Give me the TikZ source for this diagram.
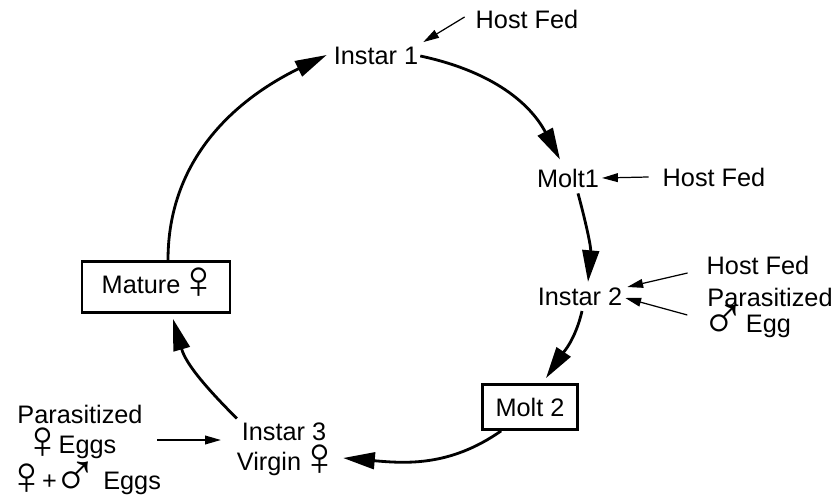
\documentclass[tikz,border=0pt]{standalone}
\usepackage{fontspec}
\setmainfont{Liberation Sans}
\usetikzlibrary{arrows.meta,calc}
\newcommand\fem{\makebox[13pt][c]{\raisebox{-3pt}{\smash{\fontsize{31}{15}\selectfont ♀}}}}
\newcommand\mal{\makebox[16pt][c]{\raisebox{-4pt}{\smash{\fontsize{35}{15}\selectfont ♂}}}}
\begin{document}
\begin{tikzpicture}[x=0.02cm,y=0.02cm,
  every node/.style={font=\fontsize{14.4}{15}\selectfont, inner sep=1pt},
  box/.style={draw, line width=1.6pt, inner sep=0pt},
  cyc/.style={line width=1.6pt, -{Triangle[length=18pt,width=9.5pt]}},
  feed/.style={line width=0.7pt, -{Triangle[length=9pt,width=5pt]}}]
\useasboundingbox (0,0) rectangle (837,-499);

% cycle nodes
\node (i1) at (376,-56) {Instar 1};
\node (m1) at (568,-178) {Molt1};
\node (i2) at (580,-297) {Instar 2};
\node[box, minimum width=1.9cm, minimum height=0.9cm] (m2) at (530,-407) {Molt 2};
\node[align=center] (i3) at (284,-449) {Instar 3\\[2pt]Virgin \fem};
\node[box, minimum width=2.96cm, minimum height=1.02cm] (mat) at (156,-287) {Mature \fem};

% feed labels
\node (hf1) at (527,-19) {Host Fed};
\node (hf2) at (714,-177) {Host Fed};
\node (hf3) at (758,-265) {Host Fed};
\node (par2) at (770,-297) {Parasitized};
\node (egg2) at (750,-327) {\mal\hspace{5pt}Egg};
\node (par3) at (80,-414) {Parasitized};
\node (eggs3) at (74,-447) {\fem\,Eggs};
\node (both3) at (88,-484) {\fem\,+\,\mal\ \ Eggs};

% cycle arrows
\draw[cyc] (i1.east) to[out=-12,in=118] ($(m1.north)+(-8,7)$);
\draw[cyc] ($(m1.south)+(10,-4)$) to[out=-75,in=85] ($(i2.north)+(8,4)$);
\draw[cyc] ($(i2.south)+(2,-3)$) to[out=-103,in=56] ($(m2.north)+(16,5)$);
\draw[cyc] ($(m2.south west)+(20,0)$) to[out=215,in=-5] ($(i3.east)+(10,-9)$);
\draw[cyc] ($(i3.north west)+(2,2)$) to[out=135,in=-74] ($(mat.south)+(17,-5)$);
\draw[cyc] ($(mat.north)+(12,0)$) to[out=90,in=206] ($(i1.west)+(-5,1)$);

% feed arrows
\draw[feed] ($(hf1.west)+(-9,2)$) -- ($(i1.north east)+(3,3)$);
\draw[feed] ($(hf2.west)+(-12,0)$) -- ($(m1.east)+(1,0)$);
\draw[feed] ($(hf3.west)+(-17,-8)$) -- ($(i2.east)+(3,10)$);
\draw[feed] ($(par2.west)+(-18,-18)$) -- ($(i2.east)+(1,-1)$);
\draw[feed] ($(eggs3.east)+(39,7)$) -- ($(i3.west)+(-14,9)$);
\end{tikzpicture}
\end{document}
